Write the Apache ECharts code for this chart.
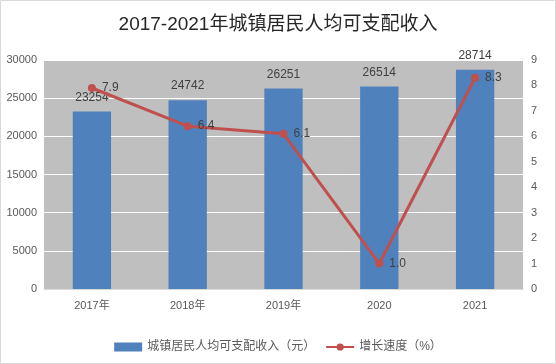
<!DOCTYPE html>
<html><head><meta charset="utf-8">
<script src="https://cdn.jsdelivr.net/npm/echarts@6/dist/echarts.min.js"></script>
<style>html,body{margin:0;padding:0;background:#fff}#c{width:556px;height:364px}</style>
</head><body><div id="c"></div>
<script>
const categories = ['2017年','2018年','2019年','2020','2021'];
const income = [23254, 24742, 26251, 26514, 28714];
const growth = [7.9, 6.4, 6.1, 1.0, 8.3];
const leftTicks = [0, 30000, 5000];
const rightTicks = [0, 9, 1];
const font = '"Liberation Sans","Noto Sans CJK SC",sans-serif';
const chart = echarts.init(document.getElementById('c'));
chart.setOption({
  backgroundColor: '#fff',
  textStyle: {fontFamily: font},
  title: {text: '2017-2021年城镇居民人均可支配收入', left: 'center', top: 10,
    textStyle: {fontSize: 19, fontWeight: 'normal', color: '#262626', fontFamily: font}},
  graphic: [{type: 'rect', shape: {x: 0.5, y: 0.5, width: 555, height: 363},
    style: {fill: 'none', stroke: '#d9d9d9', lineWidth: 1}, z: -1}],
  legend: {bottom: 6, itemGap: 10, textStyle: {fontSize: 12, color: '#595959'},
    data: [{name: '城镇居民人均可支配收入（元）', icon: 'rect'},
           {name: '增长速度（%）'}],
    itemWidth: 28, itemHeight: 9},
  grid: {left: 44, right: 33, top: 60, bottom: 75, backgroundColor: '#bfbfbf', show: true, borderWidth: 0},
  xAxis: {type: 'category', data: categories,
    axisLine: {lineStyle: {color: '#d9d9d9'}}, axisTick: {show: false},
    axisLabel: {color: '#595959', fontSize: 11, margin: 11}},
  yAxis: [
    {type: 'value', min: leftTicks[0], max: leftTicks[1], interval: leftTicks[2],
     axisLabel: {color: '#595959', fontSize: 11, margin: 7, formatter: v => String(v)},
     splitLine: {lineStyle: {color: '#ffffff'}}, axisLine: {show: false}},
    {type: 'value', min: rightTicks[0], max: rightTicks[1], interval: rightTicks[2],
     axisLabel: {color: '#595959', fontSize: 11, margin: 8, formatter: v => String(v)},
     splitLine: {show: false}, axisLine: {show: false}}
  ],
  series: [
    {name: '城镇居民人均可支配收入（元）', type: 'bar', data: income, barWidth: '40%',
     itemStyle: {color: '#4f81bd'},
     label: {show: true, position: 'top', distance: 8, color: '#404040', fontSize: 12,
       formatter: p => String(p.value)}},
    {name: '增长速度（%）', type: 'line', yAxisIndex: 1, data: growth,
     symbol: 'circle', symbolSize: 8,
     lineStyle: {color: '#c0504d', width: 3}, itemStyle: {color: '#c0504d'},
     label: {show: true, position: 'right', distance: 6, color: '#404040', fontSize: 12,
       formatter: p => p.value.toFixed(1)}}
  ]
});
</script></body></html>
